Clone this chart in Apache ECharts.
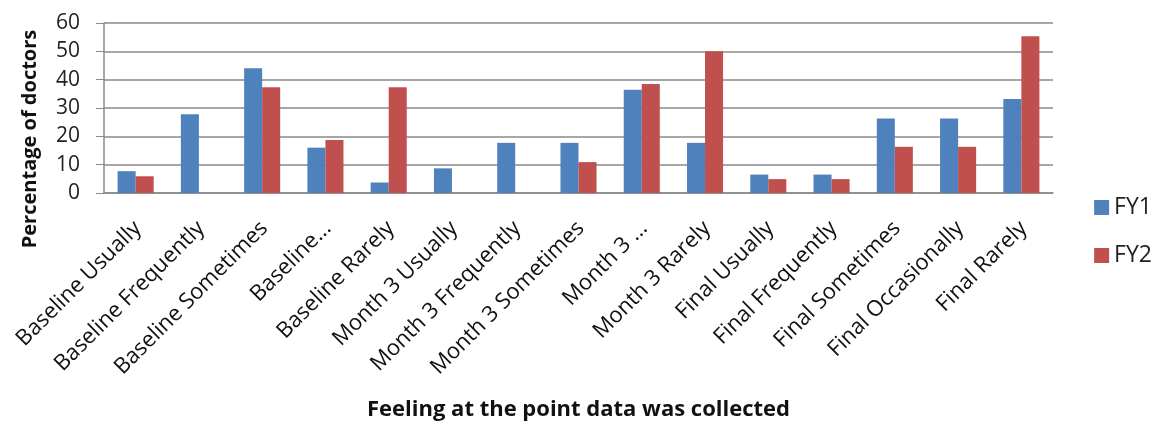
<!DOCTYPE html>
<html>
<head>
<meta charset="utf-8">
<script src="https://cdn.jsdelivr.net/npm/echarts@6/dist/echarts.min.js"></script>
<style>
  html, body { margin: 0; padding: 0; background: #ffffff; }
  #chart { width: 1156px; height: 428px; }
</style>
</head>
<body>
<div id="chart"></div>
<script>
// Survey categories (time point + feeling)
const categories = [
  'Baseline Usually', 'Baseline Frequently', 'Baseline Sometimes', 'Baseline...',
  'Baseline Rarely', 'Month 3 Usually', 'Month 3 Frequently', 'Month 3 Sometimes',
  'Month 3 ...', 'Month 3 Rarely', 'Final Usually', 'Final Frequently',
  'Final Sometimes', 'Final Occasionally', 'Final Rarely'
];
// Percentage of doctors per category
const fy1 = [7.7, 27.8, 44.0, 16.0, 3.7, 8.7, 17.7, 17.7, 36.4, 17.7, 6.5, 6.5, 26.3, 26.3, 33.2];
const fy2 = [5.9, 0, 37.3, 18.7, 37.3, 0, 0, 10.9, 38.5, 50.0, 4.9, 4.9, 16.3, 16.3, 55.3];
const yTicks = { min: 0, max: 60, interval: 10 };

const font = 'Open Sans, sans-serif';
const chart = echarts.init(document.getElementById('chart'));
chart.setOption({
  animation: false,
  grid: { left: 104, right: 103, top: 23, bottom: 235, containLabel: false },
  legend: {
    orient: 'vertical',
    right: 4,
    top: 196,
    padding: 0,
    itemWidth: 15,
    itemHeight: 15,
    itemGap: 25,
    icon: 'rect',
    textStyle: { fontFamily: font, fontSize: 23, color: '#222' },
    data: ['FY1', 'FY2']
  },
  xAxis: {
    type: 'category',
    data: categories,
    name: 'Feeling at the point data was collected',
    nameLocation: 'middle',
    nameGap: 206,
    nameTextStyle: { fontFamily: font, fontSize: 22, fontWeight: 'bold', color: '#111' },
    axisLine: { lineStyle: { color: '#8a8a8a', width: 1.5 } },
    axisTick: { show: false },
    axisLabel: {
      rotate: 45,
      interval: 0,
      margin: 34,
      padding: [0, -3, 0, 0],
      fontFamily: font,
      fontSize: 22,
      color: '#111'
    }
  },
  yAxis: {
    type: 'value',
    min: yTicks.min,
    max: yTicks.max,
    interval: yTicks.interval,
    name: 'Percentage of doctors',
    nameLocation: 'middle',
    nameGap: 64,
    nameTextStyle: {
      fontFamily: font, fontSize: 20, fontWeight: 'bold', color: '#111',
      padding: [0, 62, 0, 0]
    },
    axisLine: { show: true, lineStyle: { color: '#8a8a8a', width: 1.5 } },
    axisTick: { show: true, length: 8, lineStyle: { color: '#8a8a8a' } },
    axisLabel: { fontFamily: font, fontSize: 21, color: '#222', margin: 24 },
    splitLine: { lineStyle: { color: '#8a8a8a', width: 1.5 } }
  },
  series: [
    {
      name: 'FY1', type: 'bar', data: fy1,
      barGap: '0%', barCategoryGap: '43%',
      itemStyle: { color: '#4F81BD' }
    },
    {
      name: 'FY2', type: 'bar', data: fy2,
      itemStyle: { color: '#C0504D' }
    }
  ]
});
</script>
</body>
</html>
